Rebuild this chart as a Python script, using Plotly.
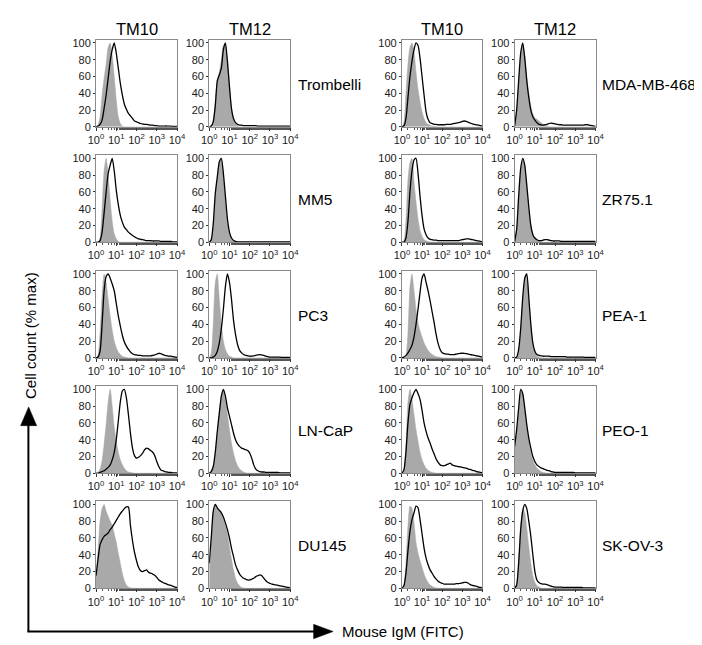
import plotly.graph_objects as go

# ---------------- data ----------------
# histogram bin centres, in decades of FITC intensity (10^0 .. 10^4)
LOG_BINS = [0.0, 0.1, 0.2, 0.3, 0.4, 0.5, 0.6, 0.7, 0.8, 0.9,
            1.0, 1.1, 1.2, 1.3, 1.4, 1.5, 1.6, 1.7, 1.8, 1.9,
            2.0, 2.1, 2.2, 2.3, 2.4, 2.5, 2.6, 2.7, 2.8, 2.9,
            3.0, 3.1, 3.2, 3.3, 3.4, 3.5, 3.6, 3.7, 3.8, 3.9,
            4.0]

ANTIBODIES = ["TM10", "TM12"]
CELL_LINES_LEFT = ["Trombelli", "MM5", "PC3", "LN-CaP", "DU145"]
CELL_LINES_RIGHT = ["MDA-MB-468", "ZR75.1", "PEA-1", "PEO-1", "SK-OV-3"]

X_TICK_VALUES = [1, 10, 100, 1000, 10000]
X_TICK_LABELS = ["10<sup>0</sup>", "10<sup>1</sup>", "10<sup>2</sup>", "10<sup>3</sup>", "10<sup>4</sup>"]
Y_TICK_VALUES = [0, 20, 40, 60, 80, 100]
Y_TICK_LABELS = ["0", "20", "40", "60", "80", "100"]

Y_TITLE = "Cell count (% max)"
X_TITLE = "Mouse IgM (FITC)"

# gray filled = control, black line = stained (% of max)
trombelli_tm10_ctrl = [0, 2, 12, 38, 58, 75, 95, 100, 85, 60,
                       32, 12, 4, 1, 0, 0, 0, 0, 0, 0,
                       0, 0, 0, 0, 0, 0, 0, 0, 0, 0,
                       0, 0, 0, 0, 0, 0, 0, 0, 0, 0,
                       0]
trombelli_tm10_stain = [0, 1, 3, 8, 22, 38, 58, 78, 92, 100,
                        88, 70, 52, 38, 27, 21, 16, 13, 10, 7,
                        6, 5, 4, 3.5, 3, 3, 2.5, 2, 2, 1.5,
                        1.5, 1, 1, 1, 1, 1, 0.8, 0.8, 0.5, 0.5,
                        0.5]
trombelli_tm12_ctrl = [0, 1, 8, 30, 55, 65, 80, 97, 98, 80,
                       50, 22, 8, 3, 1, 0, 0, 0, 0, 0,
                       0, 0, 0, 0, 0, 0, 0, 0, 0, 0,
                       0, 0, 0, 0, 0, 0, 0, 0, 0, 0,
                       0]
trombelli_tm12_stain = [0, 1, 6, 25, 55, 62, 70, 92, 100, 78,
                        48, 22, 10, 5, 3, 2, 2, 1.5, 1.5, 1.5,
                        1.5, 1.5, 1.5, 1.5, 1, 1, 1, 1, 1, 1,
                        1, 1, 1, 1, 1, 1, 1, 1, 1, 1,
                        1]

mm5_tm10_ctrl = [0, 0, 5, 40, 85, 100, 80, 50, 25, 10,
                 4, 1, 0, 0, 0, 0, 0, 0, 0, 0,
                 0, 0, 0, 0, 0, 0, 0, 0, 0, 0,
                 0, 0, 0, 0, 0, 0, 0, 0, 0, 0,
                 0]
mm5_tm10_stain = [0, 0, 2, 12, 35, 60, 82, 92, 100, 85,
                  62, 45, 32, 24, 18, 15, 12, 10, 8, 6.5,
                  5, 4, 3.5, 3, 2.5, 2, 2, 2, 1.5, 1.5,
                  1.5, 1.5, 1, 1, 1, 1, 1, 1, 0.5, 0.5,
                  0.5]
mm5_tm12_ctrl = [0, 3, 20, 55, 75, 95, 100, 80, 50, 25,
                 10, 3, 1, 0, 0, 0, 0, 0, 0, 0,
                 0, 0, 0, 0, 0, 0, 0, 0, 0, 0,
                 0, 0, 0, 0, 0, 0, 0, 0, 0, 0,
                 0]
mm5_tm12_stain = [0, 3, 22, 58, 78, 96, 100, 82, 55, 28,
                  12, 5, 2, 1, 0.5, 0.5, 0.5, 0.5, 0.5, 0.5,
                  0.5, 0.5, 0.5, 0.5, 0.5, 0.5, 0.5, 0.5, 0.5, 0.5,
                  0.5, 0.5, 0.5, 0.5, 0.5, 0.5, 0.5, 0.5, 0.5, 0.5,
                  0.5]

pc3_tm10_ctrl = [0, 3, 30, 75, 100, 90, 70, 50, 33, 20,
                 12, 7, 4, 2, 1, 0.5, 0, 0, 0, 0,
                 0, 0, 0, 0, 0, 0, 0, 0, 0, 0,
                 0, 0, 0, 0, 0, 0, 0, 0, 0, 0,
                 0]
pc3_tm10_stain = [0, 1, 8, 40, 80, 97, 100, 95, 88, 80,
                  65, 50, 38, 27, 19, 14, 10, 7, 5, 4,
                  3.5, 3, 3, 2.5, 2.5, 2.5, 2.5, 2.5, 3, 3.5,
                  4.5, 5.5, 5, 4, 3, 2.5, 2, 2, 1.5, 1,
                  0.5]
pc3_tm12_ctrl = [0, 5, 40, 90, 100, 70, 40, 20, 10, 5,
                 2, 1, 0, 0, 0, 0, 0, 0, 0, 0,
                 0, 0, 0, 0, 0, 0, 0, 0, 0, 0,
                 0, 0, 0, 0, 0, 0, 0, 0, 0, 0,
                 0]
pc3_tm12_stain = [0, 0, 1, 3, 8, 18, 35, 58, 85, 100,
                  90, 70, 45, 28, 16, 9, 6, 4, 3, 2.5,
                  2, 2, 2.5, 3, 3.5, 4, 3.5, 3, 2, 1.5,
                  1, 1, 1, 1, 1, 1, 0.5, 0.5, 0.5, 0.5,
                  0.5]

lncap_tm10_ctrl = [0, 1, 5, 15, 35, 58, 85, 100, 80, 55,
                   38, 25, 16, 10, 6, 3, 1.5, 1, 0.5, 0,
                   0, 0, 0, 0, 0, 0, 0, 0, 0, 0,
                   0, 0, 0, 0, 0, 0, 0, 0, 0, 0,
                   0]
lncap_tm10_stain = [0, 0, 1, 2, 3, 5, 7, 10, 16, 25,
                    40, 62, 85, 98, 100, 90, 70, 48, 30, 21,
                    18, 19, 21, 24, 28, 30, 29, 27, 25, 21,
                    14, 8, 4, 3, 2, 1.5, 1, 1, 0.5, 0.5,
                    0.5]
lncap_tm12_ctrl = [0, 2, 8, 25, 48, 72, 92, 100, 88, 70,
                   52, 36, 24, 15, 9, 5, 3, 1.5, 0.5, 0,
                   0, 0, 0, 0, 0, 0, 0, 0, 0, 0,
                   0, 0, 0, 0, 0, 0, 0, 0, 0, 0,
                   0]
lncap_tm12_stain = [0, 2, 8, 25, 50, 72, 92, 100, 92, 78,
                    68, 58, 48, 40, 35, 32, 30, 29, 28, 27,
                    24, 18, 10, 5, 3, 2, 1.5, 1.5, 1, 1,
                    1, 1, 1, 1, 1, 0.5, 0.5, 0.5, 0.5, 0.5,
                    0.5]

du145_tm10_ctrl = [15, 45, 80, 95, 100, 92, 86, 80, 75, 65,
                   55, 42, 30, 18, 9, 4, 1.5, 0.5, 0, 0,
                   0, 0, 0, 0, 0, 0, 0, 0, 0, 0,
                   0, 0, 0, 0, 0, 0, 0, 0, 0, 0,
                   0]
du145_tm10_stain = [15, 35, 52, 58, 62, 64, 66, 70, 73, 77,
                    81, 85, 89, 92, 95, 97, 97, 75, 57, 43,
                    33, 25, 21, 20, 21, 22, 19, 18, 17, 15.5,
                    13, 10, 8.5, 7, 6, 5, 4, 3.5, 2.5, 1.5,
                    1]
du145_tm12_ctrl = [25, 55, 90, 100, 95, 92, 88, 82, 75, 65,
                   50, 35, 22, 12, 6, 3, 1, 0.5, 0, 0,
                   0, 0, 0, 0, 0, 0, 0, 0, 0, 0,
                   0, 0, 0, 0, 0, 0, 0, 0, 0, 0,
                   0]
du145_tm12_stain = [30, 60, 92, 100, 96, 93, 90, 85, 78, 70,
                    60, 48, 38, 28, 22, 17, 14, 12, 11, 10,
                    10, 11, 12, 14, 15, 16, 15, 12, 9, 7,
                    6, 5, 4.5, 4, 3.5, 3, 2.5, 2, 1.5, 1,
                    0.5]

mda_tm10_ctrl = [0, 5, 40, 75, 95, 100, 90, 65, 45, 30,
                 18, 10, 5, 3, 2, 1, 1, 0.5, 0, 0,
                 0, 0, 0, 0, 0, 0, 0, 0, 0, 0,
                 0, 0, 0, 0, 0, 0, 0, 0, 0, 0,
                 0]
mda_tm10_stain = [0, 1, 10, 35, 60, 78, 92, 100, 97, 82,
                  60, 38, 18, 9, 5, 4, 3, 3, 2.5, 2.5,
                  2.5, 2.5, 3, 3, 3, 3.5, 4, 4.5, 5, 5.5,
                  6.5, 7, 6.5, 5.5, 4.5, 3.5, 3, 2.5, 2, 1.5,
                  1]
mda_tm12_ctrl = [0, 20, 55, 85, 100, 85, 60, 40, 25, 15,
                 11, 9, 7, 5, 3, 2, 1, 0.5, 0, 0,
                 0, 0, 0, 0, 0, 0, 0, 0, 0, 0,
                 0, 0, 0, 0, 0, 0, 0, 0, 0, 0,
                 0]
mda_tm12_stain = [1, 20, 55, 88, 100, 82, 55, 35, 20, 12,
                  8, 5, 3, 2.5, 2, 2.5, 3, 4, 4.5, 4,
                  3.5, 3, 2.5, 2.5, 2, 2, 2, 2, 2, 2,
                  2, 2, 2, 2, 2, 2.5, 2.5, 2, 1.5, 1,
                  1]

zr75_tm10_ctrl = [0, 2, 25, 75, 95, 100, 72, 48, 28, 14,
                  7, 3, 1.5, 1, 0, 0, 0, 0, 0, 0,
                  0, 0, 0, 0, 0, 0, 0, 0, 0, 0,
                  0, 0, 0, 0, 0, 0, 0, 0, 0, 0,
                  0]
zr75_tm10_stain = [0, 0, 5, 25, 60, 85, 98, 100, 82, 55,
                   32, 16, 9, 5, 3.5, 3, 2.5, 2.5, 2, 2,
                   2, 2, 2, 2, 2, 2, 2, 2, 2, 2.5,
                   3, 3.5, 4, 4, 3.5, 3, 2.5, 2, 1.5, 1,
                   0.5]
zr75_tm12_ctrl = [2, 15, 55, 85, 100, 90, 65, 40, 20, 10,
                  5, 3, 1.5, 1, 0, 0, 0, 0, 0, 0,
                  0, 0, 0, 0, 0, 0, 0, 0, 0, 0,
                  0, 0, 0, 0, 0, 0, 0, 0, 0, 0,
                  0]
zr75_tm12_stain = [1, 15, 55, 88, 100, 92, 68, 42, 20, 9,
                   5, 3, 2, 2, 2.5, 3, 3, 2.5, 2, 1.5,
                   1.5, 1.5, 1.5, 1, 1, 1, 1, 1, 1, 1,
                   1, 1, 1, 1, 1, 1, 1, 1, 1, 1,
                   1]

pea1_tm10_ctrl = [0, 0, 3, 30, 85, 100, 80, 58, 42, 32,
                  25, 18, 13, 9, 6, 4, 2.5, 1.5, 1, 0.5,
                  0, 0, 0, 0, 0, 0, 0, 0, 0, 0,
                  0, 0, 0, 0, 0, 0, 0, 0, 0, 0,
                  0]
pea1_tm10_stain = [0, 1, 3, 6, 10, 15, 25, 40, 58, 78,
                   95, 100, 90, 80, 68, 55, 42, 28, 17, 10,
                   6, 5, 4.5, 4.5, 4, 4, 4, 4.5, 5, 5.5,
                   5.5, 5.5, 5, 4.5, 4, 3.5, 3, 2.5, 2, 1.5,
                   1]
pea1_tm12_ctrl = [0, 1, 10, 35, 70, 92, 98, 70, 38, 16,
                  6, 2, 1, 0, 0, 0, 0, 0, 0, 0,
                  0, 0, 0, 0, 0, 0, 0, 0, 0, 0,
                  0, 0, 0, 0, 0, 0, 0, 0, 0, 0,
                  0]
pea1_tm12_stain = [0, 1, 10, 35, 72, 95, 100, 72, 40, 18,
                   8, 4, 3, 2.5, 2, 2, 2, 2, 1.5, 1.5,
                   1.5, 1.5, 1.5, 1.5, 1.5, 1.5, 1, 1, 1, 1,
                   1, 1, 1, 1, 1, 0.5, 0.5, 0.5, 0.5, 0.5,
                   0.5]

peo1_tm10_ctrl = [0, 3, 35, 85, 100, 88, 70, 52, 38, 25,
                  16, 10, 6, 3.5, 2, 1, 0.5, 0, 0, 0,
                  0, 0, 0, 0, 0, 0, 0, 0, 0, 0,
                  0, 0, 0, 0, 0, 0, 0, 0, 0, 0,
                  0]
peo1_tm10_stain = [0, 4, 25, 60, 82, 90, 96, 100, 95, 88,
                   75, 60, 50, 42, 36, 29, 23, 17, 13, 10,
                   9, 9, 10, 11, 12, 10, 9, 8.5, 8, 7.5,
                   7, 6.5, 6, 5, 4.5, 3.5, 3, 2, 1.5, 1,
                   0.5]
peo1_tm12_ctrl = [30, 50, 75, 98, 95, 75, 55, 38, 25, 16,
                  10, 6, 4, 2, 1, 0.5, 0, 0, 0, 0,
                  0, 0, 0, 0, 0, 0, 0, 0, 0, 0,
                  0, 0, 0, 0, 0, 0, 0, 0, 0, 0,
                  0]
peo1_tm12_stain = [32, 52, 78, 100, 95, 78, 58, 42, 30, 20,
                   14, 10, 8, 6.5, 5.5, 4.5, 3.5, 3, 2, 1.5,
                   1, 1, 1, 1, 1, 1, 1, 1, 1, 1,
                   0.5, 0.5, 0.5, 0.5, 0.5, 0.5, 0.5, 0.5, 0.5, 0.5,
                   0.5]

skov3_tm10_ctrl = [0, 5, 30, 75, 98, 95, 78, 55, 42, 33,
                   25, 17, 11, 7, 4, 2.5, 1, 0.5, 0, 0,
                   0, 0, 0, 0, 0, 0, 0, 0, 0, 0,
                   0, 0, 0, 0, 0, 0, 0, 0, 0, 0,
                   0]
skov3_tm10_stain = [0, 3, 18, 45, 68, 82, 90, 98, 96, 82,
                    65, 48, 36, 28, 22, 18, 14, 11, 8.5, 7,
                    6, 5, 5, 5, 5, 5, 5, 5.5, 5.5, 6,
                    6.5, 7, 7, 6, 4.5, 3.5, 3, 2.5, 1.5, 1,
                    0.5]
skov3_tm12_ctrl = [0, 5, 35, 75, 95, 90, 72, 50, 30, 15,
                   7, 3, 1.5, 0.5, 0, 0, 0, 0, 0, 0,
                   0, 0, 0, 0, 0, 0, 0, 0, 0, 0,
                   0, 0, 0, 0, 0, 0, 0, 0, 0, 0,
                   0]
skov3_tm12_stain = [0, 4, 30, 70, 92, 100, 95, 80, 62, 40,
                    20, 10, 7, 5.5, 5, 5, 4.5, 3.5, 2.5, 2,
                    1.5, 1.5, 1.5, 1.5, 1, 1, 1, 1, 1, 1,
                    1, 1, 1, 1, 0.5, 0.5, 0.5, 0.5, 0.5, 0.5,
                    0.5]

# (row, group, antibody, control, stained)
PANELS = [
    (0, 0, 0, trombelli_tm10_ctrl, trombelli_tm10_stain),
    (0, 0, 1, trombelli_tm12_ctrl, trombelli_tm12_stain),
    (1, 0, 0, mm5_tm10_ctrl, mm5_tm10_stain),
    (1, 0, 1, mm5_tm12_ctrl, mm5_tm12_stain),
    (2, 0, 0, pc3_tm10_ctrl, pc3_tm10_stain),
    (2, 0, 1, pc3_tm12_ctrl, pc3_tm12_stain),
    (3, 0, 0, lncap_tm10_ctrl, lncap_tm10_stain),
    (3, 0, 1, lncap_tm12_ctrl, lncap_tm12_stain),
    (4, 0, 0, du145_tm10_ctrl, du145_tm10_stain),
    (4, 0, 1, du145_tm12_ctrl, du145_tm12_stain),
    (0, 1, 0, mda_tm10_ctrl, mda_tm10_stain),
    (0, 1, 1, mda_tm12_ctrl, mda_tm12_stain),
    (1, 1, 0, zr75_tm10_ctrl, zr75_tm10_stain),
    (1, 1, 1, zr75_tm12_ctrl, zr75_tm12_stain),
    (2, 1, 0, pea1_tm10_ctrl, pea1_tm10_stain),
    (2, 1, 1, pea1_tm12_ctrl, pea1_tm12_stain),
    (3, 1, 0, peo1_tm10_ctrl, peo1_tm10_stain),
    (3, 1, 1, peo1_tm12_ctrl, peo1_tm12_stain),
    (4, 1, 0, skov3_tm10_ctrl, skov3_tm10_stain),
    (4, 1, 1, skov3_tm12_ctrl, skov3_tm12_stain),
]

# ---------------- layout helpers ----------------
W, H = 702, 645


def px(x):
    return x / W


def py(y):
    return 1 - y / H


COL_PX = {(0, 0): (82, 165), (0, 1): (198, 281), (1, 0): (395.5, 478), (1, 1): (511, 594)}
ROW_TOP_PX = [29, 146, 263.3, 380.3, 497]
PANEL_H_PX = 88.5
LABEL_X_PX = {0: 287, 1: 599}

FONT = "Arial, 'Liberation Sans', sans-serif"
FRAME = "#8a8a8a"
TEXT = "#1a1a1a"
FILL = "#a9a9a9"

X_VALUES = [10 ** b for b in LOG_BINS]

fig = go.Figure()
layout_axes = {}

for i, (row, grp, ab, ctrl, stain) in enumerate(PANELS):
    n = i + 1
    xa = "x" if n == 1 else f"x{n}"
    ya = "y" if n == 1 else f"y{n}"
    fig.add_trace(go.Scatter(x=X_VALUES, y=ctrl, xaxis=xa, yaxis=ya, mode="lines",
                             line=dict(color=FILL, width=0.5, shape="spline", smoothing=0.6),
                             fill="tozeroy", fillcolor=FILL, showlegend=False, hoverinfo="skip"))
    fig.add_trace(go.Scatter(x=X_VALUES, y=stain, xaxis=xa, yaxis=ya, mode="lines",
                             line=dict(color="#000000", width=1.3, shape="spline", smoothing=0.6),
                             showlegend=False, hoverinfo="skip"))
    x0, x1 = COL_PX[(grp, ab)]
    top = ROW_TOP_PX[row]
    bot = top + PANEL_H_PX
    xkey = "xaxis" if n == 1 else f"xaxis{n}"
    ykey = "yaxis" if n == 1 else f"yaxis{n}"
    layout_axes[xkey] = dict(
        domain=[px(x0), px(x1)], anchor=ya, type="log", range=[0, 4],
        tickvals=X_TICK_VALUES, ticktext=X_TICK_LABELS,
        ticks="outside", ticklen=3, tickwidth=1, tickcolor="#333333",
        minor=dict(ticks="outside", ticklen=2, tickwidth=0.8, tickcolor="#555555", showgrid=False),
        showline=True, linecolor=FRAME, linewidth=1, mirror=True,
        showgrid=False, zeroline=False, fixedrange=True,
        tickfont=dict(family=FONT, size=11, color=TEXT),
    )
    layout_axes[ykey] = dict(
        domain=[py(bot), py(top)], anchor=xa, range=[0, 104],
        tickvals=Y_TICK_VALUES, ticktext=Y_TICK_LABELS,
        ticks="outside", ticklen=2, tickwidth=1, tickcolor="#333333",
        showline=True, linecolor=FRAME, linewidth=1, mirror=True,
        showgrid=False, zeroline=False, fixedrange=True,
        tickfont=dict(family=FONT, size=11, color=TEXT),
    )

annotations = []
# column titles
for (grp, ab), (x0, x1) in COL_PX.items():
    annotations.append(dict(text=ANTIBODIES[ab], x=px((x0 + x1) / 2), y=py(18.5),
                            xref="paper", yref="paper", showarrow=False,
                            xanchor="center", yanchor="middle",
                            font=dict(family=FONT, size=16.5, color="#000000")))
# cell line labels
for grp, names in ((0, CELL_LINES_LEFT), (1, CELL_LINES_RIGHT)):
    for row, name in enumerate(names):
        yc = ROW_TOP_PX[row] + PANEL_H_PX / 2 + 1
        annotations.append(dict(text=name, x=px(LABEL_X_PX[grp]), y=py(yc),
                                xref="paper", yref="paper", showarrow=False,
                                xanchor="left", yanchor="middle",
                                font=dict(family=FONT, size=15.5, color="#000000")))
# axis titles
annotations.append(dict(text=Y_TITLE, x=px(15), y=py(329), xref="paper", yref="paper",
                        showarrow=False, textangle=-90, xanchor="center", yanchor="middle",
                        font=dict(family=FONT, size=15, color="#000000")))
annotations.append(dict(text=X_TITLE, x=px(332), y=py(629), xref="paper", yref="paper",
                        showarrow=False, xanchor="left", yanchor="middle",
                        font=dict(family=FONT, size=15, color="#000000")))

# arrows
shapes = [
    dict(type="line", xref="paper", yref="paper", x0=px(12.7), y0=py(629.3), x1=px(12.7), y1=py(416),
         line=dict(color="#000000", width=2)),
    dict(type="line", xref="paper", yref="paper", x0=px(11.7), y0=py(629.3), x1=px(310), y1=py(629.3),
         line=dict(color="#000000", width=2)),
    dict(type="path", xref="paper", yref="paper",
         path=f"M {px(4.7)} {py(420.5)} L {px(21.2)} {py(420.5)} L {px(12.95)} {py(401.5)} Z",
         fillcolor="#000000", line=dict(color="#000000", width=0.5)),
    dict(type="path", xref="paper", yref="paper",
         path=f"M {px(305)} {py(622)} L {px(305)} {py(636.6)} L {px(325)} {py(629.3)} Z",
         fillcolor="#000000", line=dict(color="#000000", width=0.5)),
]

fig.update_layout(
    width=W, height=H, autosize=False,
    margin=dict(l=0, r=0, t=0, b=0),
    paper_bgcolor="#ffffff", plot_bgcolor="#ffffff",
    annotations=annotations, shapes=shapes,
    showlegend=False,
    **layout_axes,
)

fig.write_html("out.html")
